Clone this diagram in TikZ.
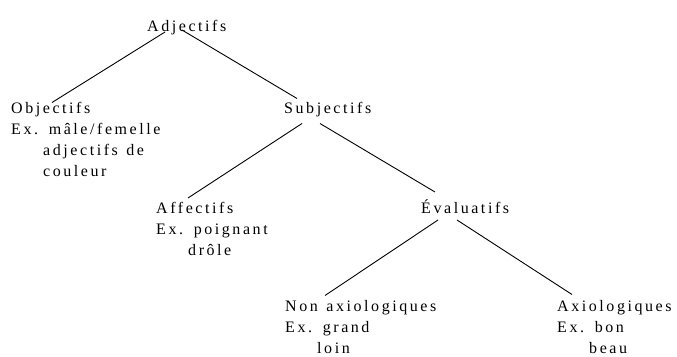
\documentclass[tikz,border=0pt]{standalone}
\usepackage{fontspec}
\newfontfamily\arbrefont{Liberation Serif}[LetterSpace=16,WordSpace=1.3]
\usepackage{tikz}
\tikzset{
    % --- styles de l'arbre ---
    branche/.style={line width=0.9pt},
    etiquette/.style={font=\arbrefont\fontsize{16pt}{21pt}\selectfont, inner sep=0pt, anchor=base west}
}
\newcommand{\retrait}{\hspace*{32pt}}
% exemple sur plusieurs lignes, aligne sur la premiere ligne
\newcommand{\exemples}[1]{\begin{tabular}[t]{@{}l@{}}#1\end{tabular}}

\begin{document}
\begin{tikzpicture}[x=1pt,y=-1pt]
    \useasboundingbox (0,0) rectangle (677,356);

    \node[etiquette] (adj) at (147,31) {Adjectifs};

    \node[etiquette] (obj) at (11,113.5) {Objectifs};
    \node[etiquette] (objex) at (11,134.5) {\exemples{Ex. mâle/femelle\\ \retrait adjectifs de\\ \retrait couleur}};

    \node[etiquette] (subj) at (284,113.5) {Subjectifs};

    \node[etiquette] (aff) at (156,213) {Affectifs};
    \node[etiquette] (affex) at (156,234) {\exemples{Ex. poignant\\ \retrait drôle}};

    \node[etiquette] (eval) at (421,213) {Évaluatifs};

    \node[etiquette] (nonax) at (285,311.5) {Non axiologiques};
    \node[etiquette] (nonaxex) at (285,332.5) {\exemples{Ex. grand\\ \retrait loin}};

    \node[etiquette] (ax) at (557,311.5) {Axiologiques};
    \node[etiquette] (axex) at (557,332.5) {\exemples{Ex. bon\\ \retrait beau}};

    % branches
    \draw[branche] ([xshift=18,yshift=-1]adj.base west) -- ([xshift=41,yshift=11]obj.base west);
    \draw[branche] ([xshift=35,yshift=1]adj.base west) -- ([xshift=13,yshift=15]subj.base west);
    \draw[branche] ([xshift=18,yshift=-10]subj.base west) -- ([xshift=32,yshift=15]aff.base west);
    \draw[branche] ([xshift=36,yshift=-10]subj.base west) -- ([xshift=14,yshift=21]eval.base west);
    \draw[branche] ([xshift=17,yshift=-7]eval.base west) -- ([xshift=40,yshift=16]nonax.base west);
    \draw[branche] ([xshift=36,yshift=-7]eval.base west) -- ([xshift=15,yshift=17]ax.base west);
\end{tikzpicture}
\end{document}
